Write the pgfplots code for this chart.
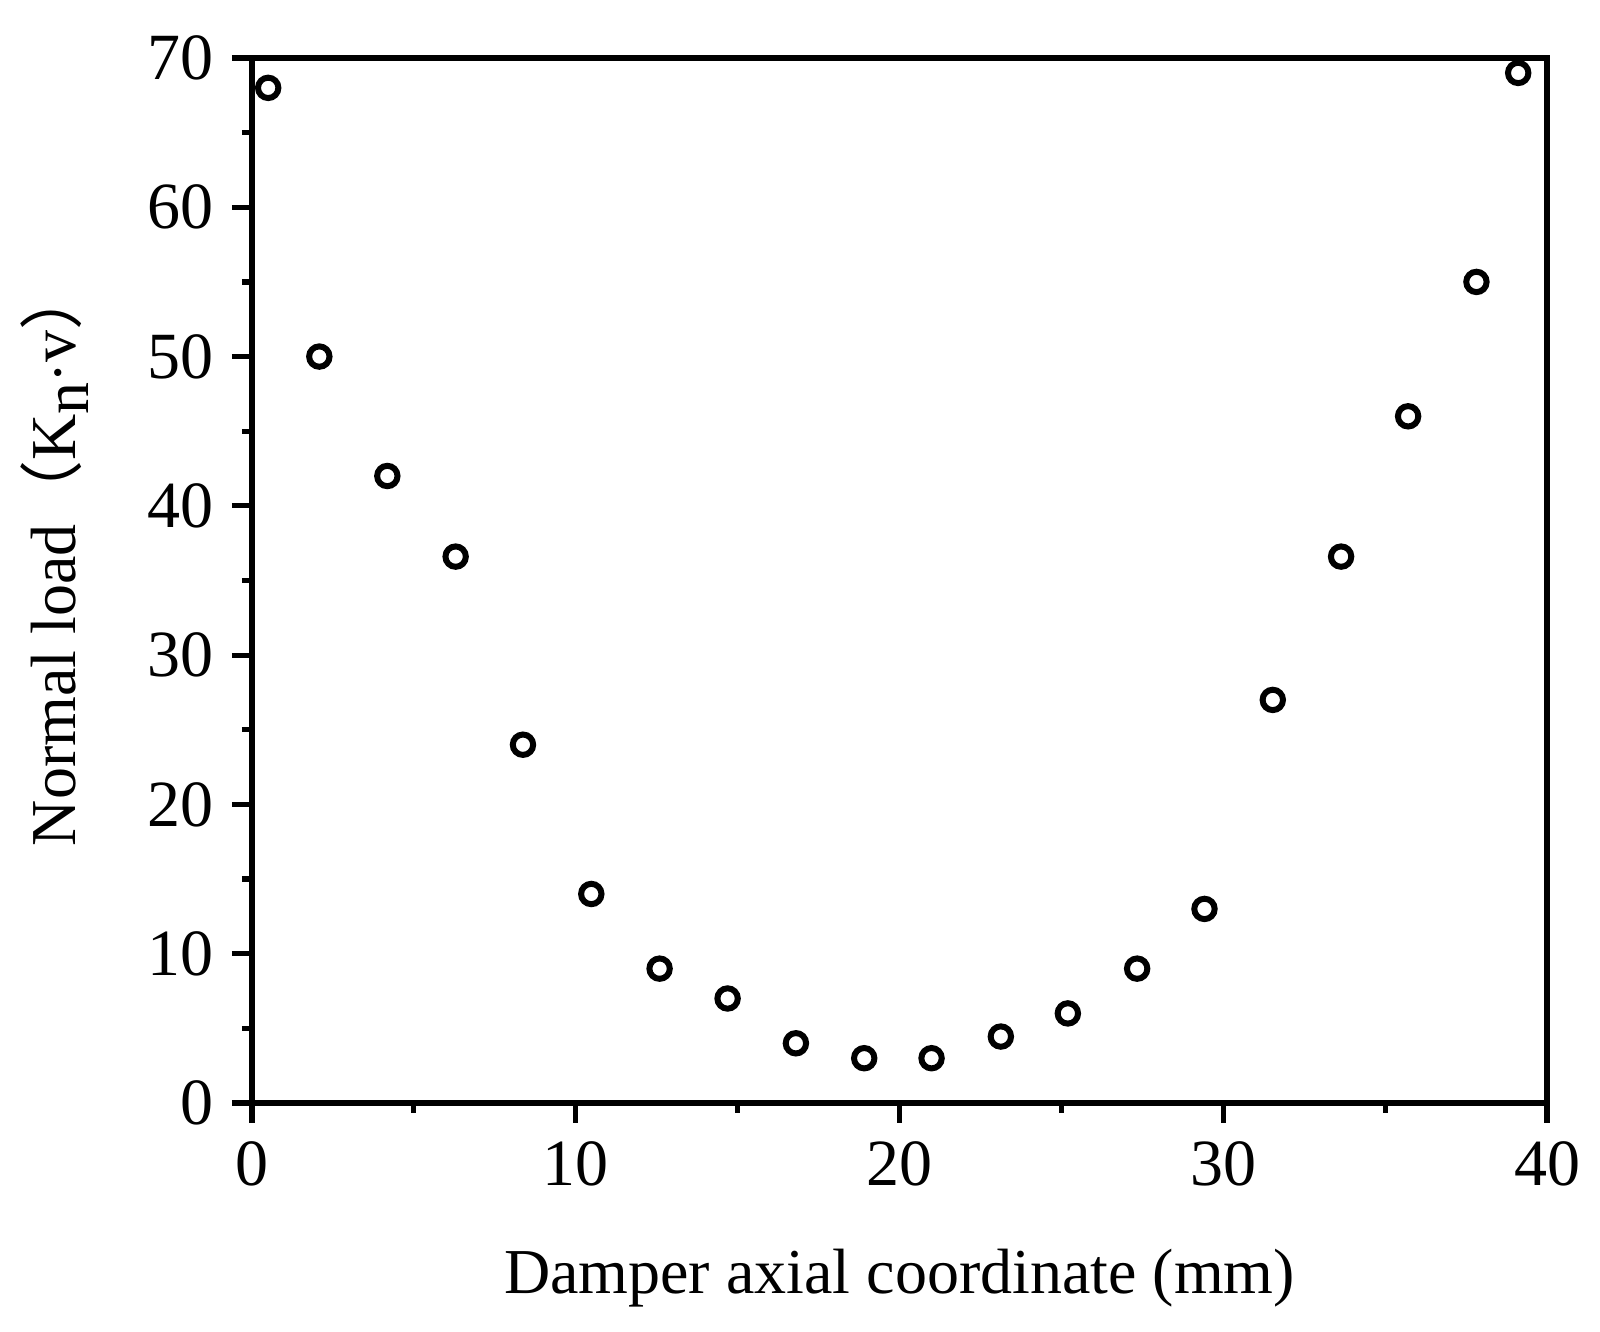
\documentclass[border=0pt]{standalone}
\usepackage{fontspec}
\setmainfont{Liberation Serif}
\newfontfamily\cjk{Noto Sans CJK SC}
\usepackage{pgfplots}
\pgfplotsset{compat=1.18}
\begin{document}
\begin{tikzpicture}
\begin{axis}[
  scale only axis,
  width=323.75pt, height=261.25pt,
  xmin=0, xmax=40, ymin=0, ymax=70,
  xtick={0,10,20,30,40}, ytick={0,10,...,70},
  minor x tick num=1, minor y tick num=1,
  axis line style={line width=1.7pt},
  every tick/.style={black, line width=1.3pt},
  major tick length=5pt, minor tick length=2.5pt,
  tick align=outside,
  xtick pos=bottom, ytick pos=left,
  /pgf/number format/assume math mode=true,
  tick label style={font=\fontsize{16.5}{16.5}\selectfont},
  xticklabel style={yshift=-1pt},
  yticklabel style={xshift=-1pt},
  label style={font=\fontsize{16}{16}\selectfont},
  xlabel={Damper axial coordinate (mm)},
  ylabel={Normal load{\cjk （}K\raisebox{-0.45ex}{n}$\cdot$v{\cjk ）}},
  xlabel style={yshift=-9pt},
  ylabel style={yshift=8pt, xshift=6pt},
  clip=false,
]
\addplot[only marks, mark=o, mark size=2.55pt, mark options={line width=1.5pt, black}] coordinates {
(0.50,68) (2.08,50) (4.18,42) (6.29,36.6) (8.37,24) (10.48,14) (12.59,9)
(14.69,7) (16.80,4) (18.91,3) (20.99,3) (23.13,4.45) (25.2,6) (27.34,9)
(29.42,13) (31.53,27) (33.64,36.6) (35.71,46) (37.82,55) (39.11,69)
};
\coordinate (sw) at (rel axis cs:0,0);
\coordinate (ne) at (rel axis cs:1,1);
\end{axis}
\pgfresetboundingbox
\path[use as bounding box] ([xshift=-63pt,yshift=-57.25pt]sw) rectangle ([xshift=13.25pt,yshift=14.5pt]ne);
\end{tikzpicture}
\end{document}
